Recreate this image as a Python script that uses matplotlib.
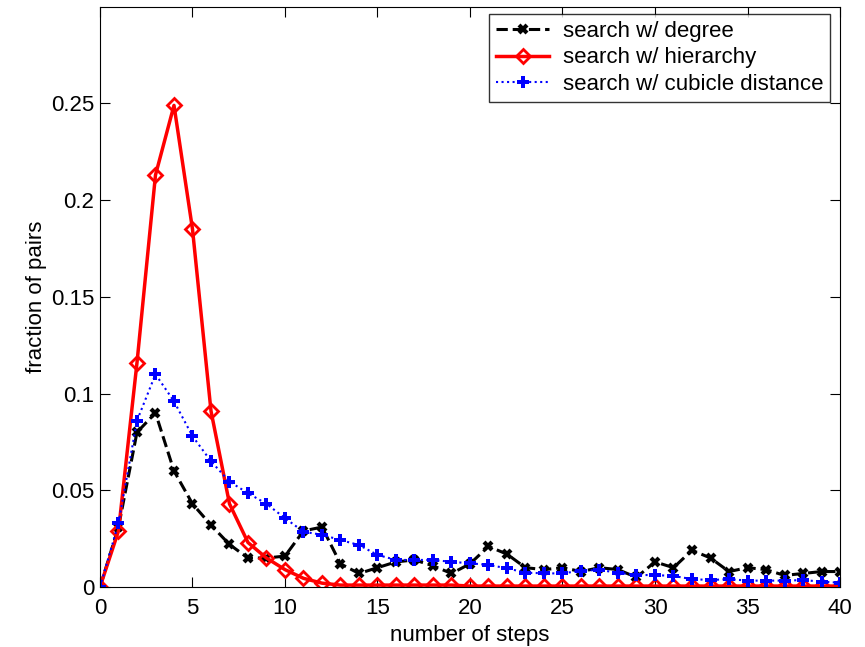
import numpy as np
import matplotlib
matplotlib.use('Agg')
import matplotlib.pyplot as plt

plt.rcParams['font.family'] = ['Liberation Sans', 'DejaVu Sans']

# Data
steps = list(range(0, 41))

degree = [0, 0.031, 0.080, 0.090, 0.060, 0.043, 0.032, 0.022, 0.015, 0.015,
          0.016, 0.029, 0.031, 0.012, 0.007, 0.010, 0.013, 0.014, 0.011, 0.007,
          0.012, 0.021, 0.017, 0.010, 0.009, 0.010, 0.008, 0.010, 0.009, 0.005,
          0.013, 0.010, 0.019, 0.015, 0.008, 0.010, 0.009, 0.006, 0.007, 0.008,
          0.008]

hierarchy = [0, 0.029, 0.116, 0.213, 0.249, 0.185, 0.091, 0.043, 0.023, 0.015,
             0.009, 0.0045, 0.002, 0.001, 0.001, 0.001, 0.001, 0.001, 0.001, 0.001,
             0.0005, 0.0005, 0.0005, 0.0005, 0.0005, 0.0005, 0.0005, 0.0005, 0.0005, 0.0005,
             0.0005, 0.0005, 0.0005, 0.0005, 0.0005, 0.0005, 0.0005, 0.0005, 0.0005, 0.0005,
             0.0005]

cubicle = [0, 0.033, 0.086, 0.110, 0.096, 0.078, 0.065, 0.0545, 0.0485, 0.043,
           0.0356, 0.0286, 0.027, 0.0243, 0.0217, 0.0166, 0.014, 0.014, 0.014, 0.013,
           0.0123, 0.0114, 0.0097, 0.0074, 0.0071, 0.007, 0.0085, 0.0088, 0.0074, 0.0062,
           0.0062, 0.0057, 0.0041, 0.0036, 0.0041, 0.0033, 0.0033, 0.0033, 0.0036, 0.0028,
           0.0022]

labels = ['search w/ degree', 'search w/ hierarchy', 'search w/ cubicle distance']

fig = plt.figure(figsize=(8.65, 6.47), dpi=100)
ax = fig.add_axes([0.1156, 0.0927, 0.8555, 0.8969])

ax.plot(steps, degree, color='black', linestyle='--', linewidth=2.2,
        marker='x', markersize=6, markeredgewidth=3, label=labels[0])
ax.plot(steps, hierarchy, color='red', linestyle='-', linewidth=2.5,
        marker='D', markersize=7, markerfacecolor='none', markeredgewidth=2,
        label=labels[1])
ax.plot(steps, cubicle, color='blue', linestyle=':', linewidth=1.5,
        marker='P', markersize=9, markeredgewidth=0, label=labels[2])

ax.set_xlim(0, 40)
ax.set_ylim(0, 0.3)
ax.set_xticks([0, 5, 10, 15, 20, 25, 30, 35, 40])
ax.set_yticks([0, 0.05, 0.1, 0.15, 0.2, 0.25])
ax.set_yticklabels(['0', '0.05', '0.1', '0.15', '0.2', '0.25'])

ax.tick_params(direction='in', length=7, top=True, right=True, labelsize=16)
ax.tick_params(axis='x', pad=8)
ax.tick_params(axis='y', pad=4)
ax.set_xlabel('number of steps', fontsize=16, labelpad=4)
ax.set_ylabel('fraction of pairs', fontsize=16, labelpad=3)

leg = ax.legend(loc='upper right', bbox_to_anchor=(0.9595, 0.978),
                bbox_transform=fig.transFigure, fontsize=16, frameon=True,
                fancybox=False, handlelength=2.4, borderpad=0.3,
                labelspacing=0.25, handletextpad=0.6, borderaxespad=0)
leg.get_frame().set_edgecolor('black')
leg.get_frame().set_linewidth(1.0)

plt.savefig('out.png', dpi=100)
